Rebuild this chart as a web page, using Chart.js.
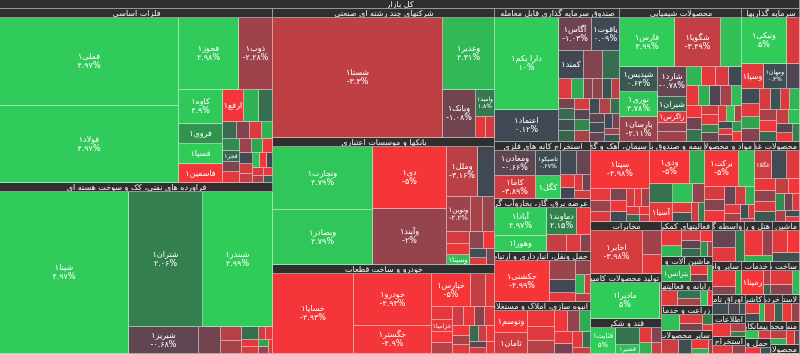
<!DOCTYPE html>
<html><head><meta charset="utf-8">
<script src="https://cdn.jsdelivr.net/npm/chart.js@4/dist/chart.umd.min.js"></script>
<style>html,body{margin:0;padding:0;background:#fff;overflow:hidden}canvas{display:block}</style>
</head><body>
<canvas id="c" width="800" height="354"></canvas>
<script>
// ---------------- DATA ----------------
const chartTitle = 'کل بازار';
const sectorNames = [
 'فلزات اساسی','فراورده های نفتی، کک و سوخت هسته ای','شرکتهای چند رشته ای صنعتی','بانکها و موسسات اعتباری',
 'خودرو و ساخت قطعات','صندوق سرمایه گذاری قابل معامله','محصولات شیمیایی','سرمایه گذاریها',
 'استخراج کانه های فلزی','عرضه برق، گاز، بخاروآب گرم','حمل ونقل، انبارداری و ارتباطات','انبوه سازی، املاک و مستغلات',
 'سیمان، آهک و گچ','بیمه و صندوق بازنشستگی به جزتامین اجتماعی','مواد و محصولات دارویی','محصولات غذایی و آشامیدنی به جز قند و شکر',
 'مخابرات','تولید محصولات کامپیوتری الکترونیکی ونوری','قند و شکر','فعالیتهای کمکی به نهادهای مالی واسط',
 'ماشین آلات و دستگاههای برقی','رایانه و فعالیتهای وابسته به آن','زراعت و خدمات وابسته','سایر محصولات کانی غیرفلزی',
 'واسطه گری های مالی و پولی','هتل و رستوران','ماشین آلات و تجهیزات','سایر واسطه گری های مالی',
 'خدمات فنی و مهندسی','ساخت محصولات فلزی','اوراق تامین مالی','اطلاعات و ارتباطات',
 'استخراج نفت گاز و خدمات جنبی جز اکتشاف','کاشی و سرامیک','خرده فروشی،باستثنای وسایل نقلیه موتوری','لاستیک و پلاستیک',
 'پیمانکاری صنعتی','حمل و نقل آبی','محصولات کاغذی','منسوجات','محصولات چوبی'
];
// stock names per sector (missing trailing names = unlabeled small cells)
const stockNames = [
 ['فملی۱','فولاد۱','فخوز۱','ذوب۱','کاوه۱','فروی۱','فسپا۱','فاسمین۱','ارفع۱','','','','','','','فولاژ۱','فجر۱'],
 ['شپنا۱','شتران۱','شبندر۱','شبریز۱','','شبهرن۱','شاوان۱'],
 ['شستا۱','وغدیر۱','وبانک۱','وامید۱'],
 ['وتجارت۱','وبصادر۱','دی۱','وآیند۱','وملل۱','وپاسار۱','ونوین۱','وگردش۱','وزمین۱','','','وسینا۱'],
 ['خساپا۱','خودرو۱','خگستر۱','خپارس۱','ختوقا۱','','','خزامیا۱'],
 ['دارا یکم۱','اعتماد۱','آگاس۱','یاقوت۱','کمند۱','','','ارزش۱','','','','','','','پاداش۱','','','','','','','','','','آکورد۱'],
 ['فارس۱','شگویا۱','','شپدیس۱','نوری۱','پارسان۱','شارد۱','شیران۱','زاگرس۱','','','','','','','آریا۱'],
 ['ونیکی۱','','وسپا۱','ومهان۱','','وسبحا۱','','','','','','وبوعلی۱'],
 ['ومعادن۱','کاما۱','تاصیکو۱','کگل۱'],
 ['آبادا۱','وهورا۱','دماوند۱'],
 ['حکشتی۱'],
 ['وتوسم۱','ثامان۱'],
 ['سپتا۱'],
 ['ودی۱','بپاس۱','','آسیا۱'],
 ['برکت۱'],
 ['غگلا۱'],
 ['اخابر۱'],
 ['مادیرا۱'],
 ['قثابت۱','','قشیر۱'],
 ['بورس۱'],
 ['بترانس۱'],
 [],[],[],[],[],[],[],
 ['رمپنا۱'],
 [],[],['های وب۱'],[],[],[],[],[],[],[],[],[]
];
const stockValues = [
 [16500,14270,4490,2550,1540,910,905,860,690,490,460,260,240,220,210,200,200,190,180,170,160,150,140,130,120,110,100,95,90,80,70,60],
 [21880,10540,9830,1975,600,315,300,215,130,110,100,90,80,70,60],
 [21710,3920,1660,520,215,190],
 [6740,5870,4920,4440,1695,875,875,450,420,300,260,250,250,200,180,125,125],
 [7100,4530,2400,1400,555,300,290,280,260,250,230,230,210,190,180,170,160,150,140,130,120,110,100],
 [6330,2160,1170,1000,720,550,515,270,240,200,200,190,185,180,180,180,180,175,170,170,165,160,160,155,150,150,140,130,120,110,100],
 [2840,2415,1075,990,990,955,950,455,355,300,290,280,270,260,250,250,240,230,220,210,200,190,180,170,160,150,145,140,130,120,110,100,95,90,85],
 [2220,640,610,600,360,285,260,250,240,230,220,215,210,200,190,180,170,160,150,140,130],
 [1230,1125,740,680,450,415,200,180,160,150,150],
 [1775,1000,960,470,400,300,200],
 [2750,600,400,300,250,200,150,150],
 [880,840,500,450,400,350,300,280,250,220,200,150,125],
 [2530,260,240,220,200,190,170,160,150,140,120,100,90,70],
 [1490,560,490,485,450,250,220,180,150,125],
 [1380,645,300,260,240,220,200,180,160,140,125,100,50],
 [540,475,410,280,260,240,220,200,180,160,150,140,120,100,75],
 [2660,560,420],
 [3050,100],
 [875,525,280,250,200,180,140],
 [400,300,250,220,200,170,140,105],
 [700,250,180,120],
 [400,300,250,180,120],
 [450,300,250,150,100],
 [400,300,250,130,100],
 [500,400,348],
 [600,300,200],
 [450,340,300],
 [500,260,200],
 [700,150,100],
 [400,300,240],
 [320,210,120],
 [380,200,120],
 [330,220],
 [220,170,130],
 [270,210],
 [240,210],
 [220,200],
 [220,160],
 [200,140],
 [180,120],
 [140,120]
];
const stockChanges = [
 [4.97,4.97,4.98,-2.28,4.9,3,5,-4.9,-4.9,4.1,1.4,1.3,-1.5,-4.2,4.1,2.6,1.2,-1.4,-4.5,-2.2,3.6,-4.8,0.2,-4,-3.5,4.5,-4.9,0.1,-4.2,-2.8,-4.6,1.1],
 [4.97,2.06,4.99,-0.68,-1.1,-3.0,-2.6,1.4,-4.5,-4,-3.8,-4.6,3.5,-2,-4.2],
 [-3.3,4.31,-1.08,1.8,-4.5,-3.9],
 [4.79,4.79,-5,-2,-3.16,0.1,-2.2,-2.6,-2.1,-3.9,-4.6,4.5,-1.7,-4.8,0.4,-4.2,-1.3],
 [-4.93,-4.93,-4.9,-5,-3.48,-4.4,-4.5,-4.6,-4.9,-3.1,-3.8,-4.7,-1.6,-4.2,-4.9,-2.5,-4.4,1.3,-3.6,-4.8,-0.7,-4.1,-4.6],
 [10,0.12,-1.03,0.09,0.09,-1.5,1.4,-4.2,3.8,-1.6,-1.8,0.4,-3.2,-1.2,1.3,0.3,1.1,-4,-0.5,2.4,-2.5,0.2,-3,1.5,-0.6,0.2,-0.8,0.1,-1.2,-2.2,0.5],
 [4.99,-3.49,4.6,0.64,4.78,-2.11,-0.78,1.11,-4.3,-1.8,-2.3,4.2,-4.5,-4.1,0.1,-4.5,3.9,-0.4,-2.4,4.4,-4.8,-1.1,1.6,-3.6,-4.6,2.2,-0.9,-4.2,4.7,-2.9,0.3,-4.4,-1.5,3.1,-4.9],
 [5,-4.1,-4.4,0.3,-0.3,0.2,-4.5,3.5,-1.5,-4,0.5,-4.2,4.2,-2.5,-4.8,1.2,-3.5,4.5,-0.4,-4.6,2.2],
 [-0.66,-3.89,0.27,4.96,0.2,-0.9,-4.6,0.1,-4.2,-1,-3.8],
 [4.97,5,2.15,-4.6,-3.5,-4.2,-1.5],
 [-4.99,-2.2,0.1,-4.5,-1.8,4.2,-4,-3.2],
 [-4.98,-3.88,-4.7,-4.2,-3,-4.9,-2,3.8,-4.5,-1.2,-4.4,1.5,-3.6],
 [-4.98,-4.6,-2.1,-4.2,-1.4,-4.8,0.2,-3.9,-4.5,-2.4,-4.1,1.2,-4.7,-3],
 [-5,3.8,1.5,-4.6,4.5,-2,-4.4,0.5,-3.8,2.1],
 [-5,4.6,-4.1,-1.6,-4.8,-0.9,-3.9,3.9,-4.5,-2.6,0.4,-4.2,-3],
 [-3.79,0.2,-4.3,-4.6,-1.8,-4.1,0.6,-3.4,-4.9,2.6,-1.1,-4.2,-2.8,0.3,-4.4],
 [-3.98,-2.3,-4.4],
 [5,-2],
 [5,1.6,4.5,-4.4,-1.5,4,-3.6],
 [-4.5,4.2,-3.8,-0.6,1.2,-4.9,2.8,-2.2],
 [4.1,-4.5,-1,3.5],
 [-4.2,1.5,-2.6,4.6,-4.8],
 [4.5,-4.3,-1.2,2,-4.6],
 [-3.7,0.3,-4.6,4,-2.1],
 [-0.8,-4.3,1.9],
 [-4.8,-2,4],
 [-4.5,-4.9,0.4],
 [-4.7,-1.5,3.6],
 [-4.97,-2.8,1.1],
 [-4.4,-1.6,4.3],
 [0.2,-0.3,0.5],
 [-4.6,-3,2],
 [-4.3,-1.9],
 [-4.5,0.3,4.2],
 [-3.9,1.1],
 [-4.7,-2.1],
 [4.6,-4.1],
 [-4.8,0.4],
 [-3.3,3.9],
 [-4.4,-0.9],
 [2.3,-4.6]
];

// ---------------- LAYOUT (squarified, d3-style) ----------------
const PHI = (1 + Math.sqrt(5)) / 2;
function squarify(vals, x0, y0, x1, y1, ratio = PHI) {
  const n = vals.length, out = new Array(n);
  let value = vals.reduce((a, b) => a + b, 0), i0 = 0, i1 = 0;
  while (i0 < n) {
    const dx = x1 - x0, dy = y1 - y0;
    let sumValue;
    do sumValue = vals[i1++]; while (!sumValue && i1 < n);
    let minV = sumValue, maxV = sumValue;
    const alpha = Math.max(dy / dx, dx / dy) / (value * ratio);
    let beta = sumValue * sumValue * alpha;
    let minRatio = Math.max(maxV / beta, beta / minV);
    for (; i1 < n; ++i1) {
      const nv = vals[i1];
      sumValue += nv;
      if (nv < minV) minV = nv;
      if (nv > maxV) maxV = nv;
      beta = sumValue * sumValue * alpha;
      const nr = Math.max(maxV / beta, beta / minV);
      if (nr > minRatio) { sumValue -= nv; break; }
      minRatio = nr;
    }
    if (dx < dy) {
      const ny = value ? y0 + dy * sumValue / value : y1;
      let x = x0; const k = (x1 - x0) / sumValue;
      for (let i = i0; i < i1; i++) { const w = vals[i] * k; out[i] = [x, y0, x + w, ny]; x += w; }
      y0 = ny;
    } else {
      const nx = value ? x0 + dx * sumValue / value : x1;
      let y = y0; const k = (y1 - y0) / sumValue;
      for (let i = i0; i < i1; i++) { const h = vals[i] * k; out[i] = [x0, y, nx, y + h]; y += h; }
      x0 = nx;
    }
    value -= sumValue; i0 = i1;
  }
  return out;
}

const STOPS = [[-3,[246,53,56]],[-2,[191,64,69]],[-1,[139,68,78]],[0,[65,69,84]],[1,[53,118,78]],[2,[47,158,79]],[3,[48,204,90]]];
function colorFor(p) {
  const t = Math.max(-3, Math.min(3, p * 0.6));
  for (let i = 0; i < STOPS.length - 1; i++) {
    const [a, ca] = STOPS[i], [b, cb] = STOPS[i + 1];
    if (t <= b) { const f = (t - a) / (b - a); const c = ca.map((v, k) => Math.round(v + (cb[k] - v) * f)); return `rgb(${c[0]},${c[1]},${c[2]})`; }
  }
  return 'rgb(48,204,90)';
}
const PD = '۰۱۲۳۴۵۶۷۸۹';
const fmtPct = v => (String(v) + '%').replace(/[0-9]/g, d => PD[d]);
const FONT = s => `${s}px "DejaVu Sans", sans-serif`;
const HEADER = 9, TITLE = 9, HEAD_BG = '#2f2f2f', LINE = 'rgba(255,255,255,0.5)';

const treemapPlugin = {
  id: 'treemapCells',
  afterDraw(chart) {
    const ctx = chart.ctx, xs = chart.scales.x, ys = chart.scales.y;
    const px = v => Math.round(xs.getPixelForValue(v));
    const py = v => Math.round(ys.getPixelForValue(v));
    function box(r, fill) {
      const L = px(r[0]), R = px(r[2]), T = py(r[1]), B = py(r[3]);
      ctx.fillStyle = fill; ctx.fillRect(L, T, R - L, B - T);
      ctx.fillStyle = LINE; ctx.fillRect(R - 1, T, 1, B - T); ctx.fillRect(L, B - 1, R - L - 1, 1);
      return [L, T, R, B];
    }
    function headerText(txt, L, T, R, B) {
      ctx.save();
      ctx.beginPath(); ctx.rect(L, T, R - L - 1, B - T - 1); ctx.clip();
      ctx.font = FONT(8); ctx.fillStyle = '#f2f2f2'; ctx.textBaseline = 'middle'; ctx.direction = 'rtl';
      const w = ctx.measureText(txt).width;
      if (w <= R - L - 4) { ctx.textAlign = 'center'; ctx.fillText(txt, (L + R) / 2, (T + B - 1) / 2 + 0.5); }
      else { ctx.textAlign = 'right'; ctx.fillText(txt, R - 3, (T + B - 1) / 2 + 0.5); }
      ctx.restore();
    }
    const X0 = xs.min, X1 = xs.max, Y0 = ys.min, Y1 = ys.max;
    const tb = box([X0, Y0, X1, Y0 + TITLE], HEAD_BG);
    headerText(chartTitle, ...tb);
    const totals = stockValues.map(a => a.reduce((s, v) => s + v, 0));
    const sRects = squarify(totals, X0, Y0 + TITLE, X1, Y1);
    sRects.forEach((sr, s) => {
      const hb = box([sr[0], sr[1], sr[2], Math.min(sr[3], sr[1] + HEADER)], HEAD_BG);
      headerText(sectorNames[s], ...hb);
      if (sr[3] - sr[1] <= HEADER) return;
      const cells = squarify(stockValues[s], sr[0], sr[1] + HEADER, sr[2], sr[3]);
      cells.forEach((cr, i) => {
        const pct = stockChanges[s][i];
        const [L, T, R, B] = box(cr, colorFor(pct));
        const name = (stockNames[s] || [])[i] || '';
        if (!name) return;
        const w = R - L - 2, h = B - T - 1;
        ctx.save();
        ctx.fillStyle = '#ffffff'; ctx.textAlign = 'center'; ctx.textBaseline = 'middle';
        const cx = (L + R - 1) / 2, cy = (T + B - 1) / 2;
        for (const size of [8, 7, 6]) {
          ctx.font = FONT(size);
          ctx.direction = 'rtl';
          const nw = ctx.measureText(name).width;
          if (nw > w || h < size + 2) continue;
          const pstr = fmtPct(pct);
          ctx.direction = 'ltr';
          const pw = ctx.measureText(pstr).width;
          if (h >= 2 * size + 6 && pw <= w) {
            ctx.direction = 'rtl'; ctx.fillText(name, cx, cy - size * 0.55);
            ctx.direction = 'ltr'; ctx.fillText(pstr, cx, cy + size * 0.6);
          } else {
            ctx.direction = 'rtl'; ctx.fillText(name, cx, cy + 0.5);
          }
          break;
        }
        ctx.restore();
      });
    });
  }
};

new Chart(document.getElementById('c').getContext('2d'), {
  type: 'scatter',
  data: { datasets: [] },
  options: {
    responsive: false, animation: false, devicePixelRatio: 1,
    layout: { padding: 0 },
    plugins: { legend: { display: false }, tooltip: { enabled: false }, title: { display: false } },
    scales: {
      x: { type: 'linear', min: 0, max: 800, display: false },
      y: { type: 'linear', min: 0, max: 354, reverse: true, display: false }
    }
  },
  plugins: [treemapPlugin]
});
</script>
</body></html>
